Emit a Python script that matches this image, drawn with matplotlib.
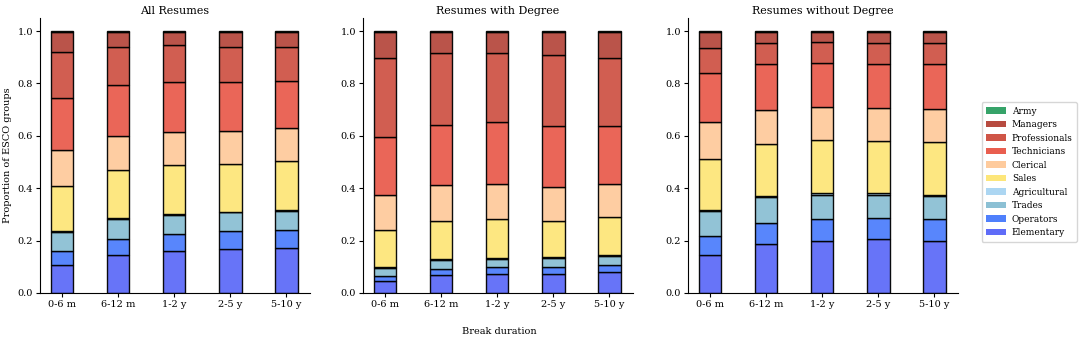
import matplotlib
matplotlib.use("Agg")
import matplotlib.pyplot as plt
import numpy as np
from matplotlib.patches import Patch

plt.rcParams['font.family'] = ['DejaVu Serif']

durations = ["0-6 m", "6-12 m", "1-2 y", "2-5 y", "5-10 y"]
groups = ["Elementary", "Operators", "Trades", "Agricultural", "Sales",
          "Clerical", "Technicians", "Professionals", "Managers", "Army"]
colors = ["#5f6cf8", "#4f80fc", "#8cc0d4", "#acd6f2", "#fde67a",
          "#fecb9d", "#e95e4f", "#cf5547", "#b74b40", "#36a369"]

# cumulative tops per group (Elementary..Managers); Army fills to 1.0
all_cum = [
    [0.107, 0.161, 0.232, 0.235, 0.407, 0.547, 0.746, 0.921, 0.997],
    [0.147, 0.208, 0.283, 0.286, 0.469, 0.600, 0.794, 0.941, 0.997],
    [0.160, 0.224, 0.296, 0.300, 0.487, 0.616, 0.805, 0.946, 0.997],
    [0.169, 0.235, 0.308, 0.311, 0.494, 0.619, 0.807, 0.941, 0.997],
    [0.170, 0.240, 0.314, 0.317, 0.504, 0.630, 0.811, 0.939, 0.997],
]
degree_cum = [
    [0.046, 0.066, 0.096, 0.098, 0.240, 0.376, 0.594, 0.897, 0.997],
    [0.069, 0.093, 0.126, 0.129, 0.274, 0.413, 0.643, 0.916, 0.997],
    [0.071, 0.098, 0.131, 0.134, 0.283, 0.416, 0.653, 0.917, 0.997],
    [0.074, 0.101, 0.134, 0.136, 0.276, 0.404, 0.638, 0.907, 0.997],
    [0.080, 0.108, 0.142, 0.144, 0.292, 0.417, 0.638, 0.898, 0.997],
]
nodegree_cum = [
    [0.144, 0.218, 0.315, 0.318, 0.511, 0.653, 0.841, 0.935, 0.995],
    [0.186, 0.268, 0.365, 0.369, 0.568, 0.700, 0.875, 0.955, 0.997],
    [0.200, 0.282, 0.376, 0.381, 0.583, 0.712, 0.879, 0.960, 0.997],
    [0.205, 0.286, 0.376, 0.381, 0.580, 0.707, 0.876, 0.955, 0.997],
    [0.200, 0.283, 0.369, 0.375, 0.575, 0.703, 0.874, 0.953, 0.997],
]
titles = ["All Resumes", "Resumes with Degree", "Resumes without Degree"]

fig = plt.figure(figsize=(10.8, 3.43), dpi=100)
lefts = [40/1080, 363/1080, 688/1080]
w = 270/1080
bottom = 1 - 293/343
h = (293 - 18)/343

x = np.arange(len(durations))
for k, (data, title) in enumerate(zip([all_cum, degree_cum, nodegree_cum], titles)):
    ax = fig.add_axes([lefts[k], bottom, w, h])
    cum = np.array([row + [1.0] for row in data])
    props = np.diff(np.hstack([np.zeros((cum.shape[0], 1)), cum]), axis=1)
    base = np.zeros(len(durations))
    for g in range(len(groups)):
        ax.bar(x, props[:, g], width=0.4, bottom=base, color=colors[g],
               edgecolor="black", linewidth=1.0, alpha=0.95, label=groups[g])
        base = base + props[:, g]
    ax.set_xticks(x)
    ax.set_xticklabels(durations, fontsize=7)
    ax.set_yticks([0, 0.2, 0.4, 0.6, 0.8, 1.0])
    ax.set_yticklabels(["0.0", "0.2", "0.4", "0.6", "0.8", "1.0"], fontsize=7)
    ax.set_ylim(0, 1.05)
    ax.set_xlim(-0.39, 4.42)
    ax.spines['top'].set_visible(False)
    ax.spines['right'].set_visible(False)
    ax.tick_params(length=3, width=0.8, pad=2)
    ax.set_title(title, fontsize=8, pad=3)
    if k == 0:
        ax.set_ylabel("Proportion of ESCO groups", fontsize=7, labelpad=4)

fig.text(499/1080, 1 - 331/343, "Break duration", ha="center", va="center", fontsize=7)

leg_handles = [Patch(facecolor=colors[g], edgecolor="none") for g in range(len(groups))][::-1]
fig.legend(leg_handles, groups[::-1], loc="center left",
           bbox_to_anchor=(977/1080, 1 - 172/343), fontsize=6.5,
           frameon=True, handlelength=2.2, handleheight=0.75, labelspacing=0.5,
           borderpad=0.5, handletextpad=0.65, fancybox=True, edgecolor="#cccccc")

fig.savefig("out.png", dpi=100)
